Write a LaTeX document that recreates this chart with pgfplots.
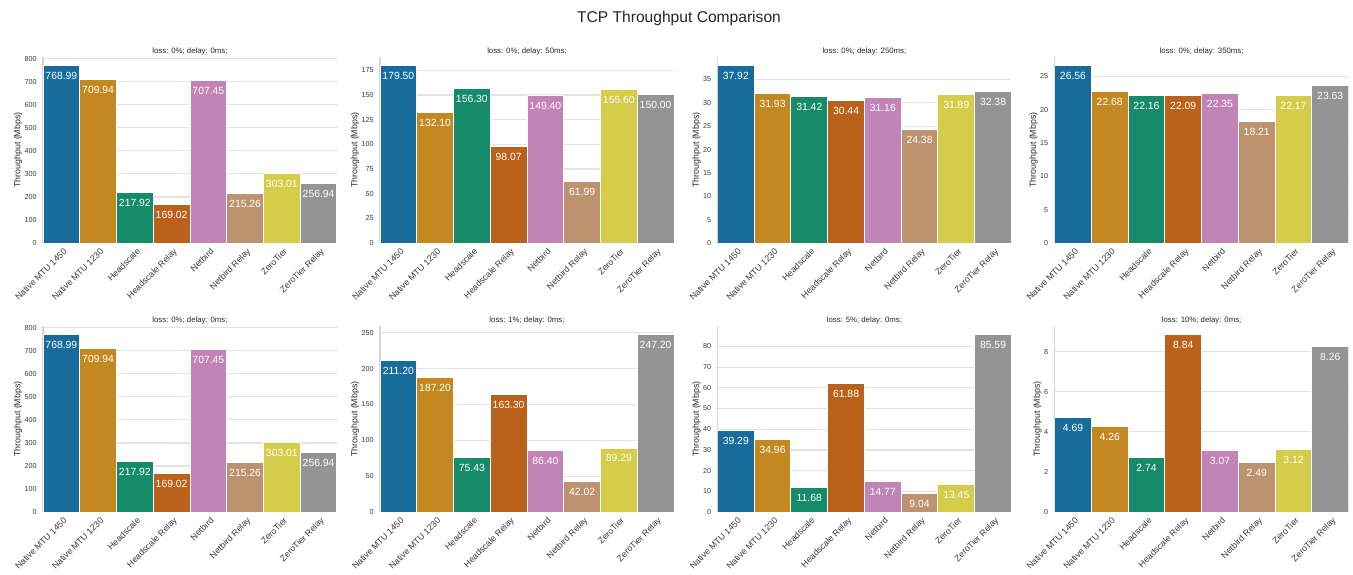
\documentclass[border=0pt]{standalone}
\usepackage{pgfplots}
\pgfplotsset{compat=1.18}
\usepackage{fontspec}
\setmainfont{Liberation Sans}
\definecolor{c0}{HTML}{176C9C}
\definecolor{c1}{HTML}{C38820}
\definecolor{c2}{HTML}{168B6A}
\definecolor{c3}{HTML}{BA611B}
\definecolor{c4}{HTML}{C283B6}
\definecolor{c5}{HTML}{BD926E}
\definecolor{c6}{HTML}{D5CD4A}
\definecolor{c7}{HTML}{949494}
\definecolor{textgray}{HTML}{262626}
\definecolor{tickgray}{HTML}{3A3A3A}
\definecolor{gridgray}{HTML}{E3E3E3}
\definecolor{spinegray}{HTML}{D6D6D6}

\newcommand{\bars}[8]{%
  \addplot[fill=c0] coordinates {(0,#1)};
  \addplot[fill=c1] coordinates {(1,#2)};
  \addplot[fill=c2] coordinates {(2,#3)};
  \addplot[fill=c3] coordinates {(3,#4)};
  \addplot[fill=c4] coordinates {(4,#5)};
  \addplot[fill=c5] coordinates {(5,#6)};
  \addplot[fill=c6] coordinates {(6,#7)};
  \addplot[fill=c7] coordinates {(7,#8)};
}

\pgfplotsset{
  panel/.style={
    anchor=south west,
    width=147pt, height=93pt, scale only axis,
    xmin=-0.5, xmax=7.5, ymin=0,
    ybar, bar width=1, bar shift=0pt,
    every axis plot/.append style={draw=white, line width=0.5pt},
    xtick={0,...,7},
    xticklabels={Native MTU 1450,Native MTU 1230,Headscale,Headscale Relay,Netbird,Netbird Relay,ZeroTier,ZeroTier Relay},
    x tick label style={rotate=45, anchor=north east, font=\fontsize{4.4}{5}\selectfont, text=tickgray, inner sep=0pt, xshift=-1pt, yshift=-2pt},
    y tick label style={font=\fontsize{3.6}{4}\selectfont, text=tickgray, inner sep=0pt, xshift=-3pt},
    /pgf/number format/assume math mode=true,
    major tick length=0pt,
    ymajorgrids, grid style={gridgray, line width=0.6pt},
    axis x line*=bottom, axis y line*=left,
    axis line style={-, draw=spinegray, line width=0.6pt},
    ylabel={Throughput (Mbps)},
    ylabel style={font=\fontsize{4.4}{5}\selectfont, text=textgray, inner sep=0pt, yshift=1pt},
    title style={font=\fontsize{3.9}{4.5}\selectfont, text=textgray, at={(0.5,1)}, anchor=south, inner sep=0pt, yshift=-5.5pt},
    nodes near coords={\pgfmathprintnumber[fixed,fixed zerofill,precision=2,assume math mode=true]{\pgfplotspointmeta}},
    nodes near coords align={anchor=north},
    every node near coord/.append style={font=\fontsize{5.2}{6}\selectfont, text=white, inner sep=0pt, yshift=-3.1pt},
  }
}

\begin{document}
\begin{tikzpicture}
\useasboundingbox (0,0) rectangle (676.5pt,287pt);
\node[font=\fontsize{7.8}{9}\selectfont, text=textgray] at (339.5pt,278pt) {TCP Throughput Comparison};

% Row 1
\begin{axis}[panel, at={(21.5pt,165.5pt)}, ymax=807.44, ytick distance=100, title={loss: 0\%; delay: 0ms;}]
\bars{768.99}{709.94}{217.92}{169.02}{707.45}{215.26}{303.01}{256.94}
\end{axis}
\begin{axis}[panel, at={(190pt,165.5pt)}, ymax=188.48, ytick distance=25, title={loss: 0\%; delay: 50ms;}]
\bars{179.50}{132.10}{156.30}{98.07}{149.40}{61.99}{155.60}{150.00}
\end{axis}
\begin{axis}[panel, at={(358.7pt,165.5pt)}, ymax=39.82, ytick distance=5, title={loss: 0\%; delay: 250ms;}]
\bars{37.92}{31.93}{31.42}{30.44}{31.16}{24.38}{31.89}{32.38}
\end{axis}
\begin{axis}[panel, at={(527.3pt,165.5pt)}, ymax=27.89, ytick distance=5, title={loss: 0\%; delay: 350ms;}]
\bars{26.56}{22.68}{22.16}{22.09}{22.35}{18.21}{22.17}{23.63}
\end{axis}

% Row 2
\begin{axis}[panel, at={(21.5pt,31pt)}, ymax=807.44, ytick distance=100, title={loss: 0\%; delay: 0ms;}]
\bars{768.99}{709.94}{217.92}{169.02}{707.45}{215.26}{303.01}{256.94}
\end{axis}
\begin{axis}[panel, at={(190pt,31pt)}, ymax=259.56, ytick distance=50, title={loss: 1\%; delay: 0ms;}]
\bars{211.20}{187.20}{75.43}{163.30}{86.40}{42.02}{89.29}{247.20}
\end{axis}
\begin{axis}[panel, at={(358.7pt,31pt)}, ymax=89.87, ytick distance=10, title={loss: 5\%; delay: 0ms;}]
\bars{39.29}{34.96}{11.68}{61.88}{14.77}{9.04}{13.45}{85.59}
\end{axis}
\begin{axis}[panel, at={(527.3pt,31pt)}, ymax=9.28, ytick distance=2, title={loss: 10\%; delay: 0ms;}]
\bars{4.69}{4.26}{2.74}{8.84}{3.07}{2.49}{3.12}{8.26}
\end{axis}
\end{tikzpicture}
\end{document}
